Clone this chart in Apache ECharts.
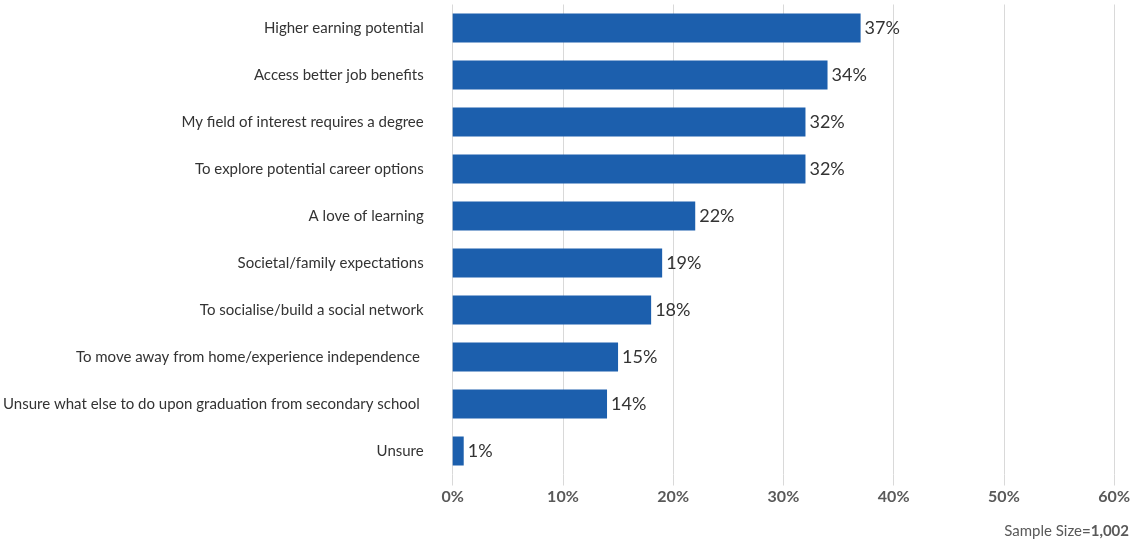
<!DOCTYPE html>
<html>
<head>
<meta charset="utf-8">
<script src="https://cdn.jsdelivr.net/npm/echarts@6/dist/echarts.min.js"></script>
<style>
  html, body { margin: 0; padding: 0; background: #fff; }
  #chart { width: 1133px; height: 542px; }
</style>
</head>
<body>
<div id="chart"></div>
<script>
// Reasons for pursuing a degree (share of respondents, %)
const categories = [
  'Higher earning potential',
  'Access better job benefits',
  'My field of interest requires a degree',
  'To explore potential career options',
  'A love of learning',
  'Societal/family expectations',
  'To socialise/build a social network',
  'To move away from home/experience independence ',
  'Unsure what else to do upon graduation from secondary school ',
  'Unsure'
];
const values = [37, 34, 32, 32, 22, 19, 18, 15, 14, 1];
const tickMax = 60;
const tickStep = 10;
const sampleSize = '1,002';

const FONT = 'Lato, "Open Sans", sans-serif';
const chart = echarts.init(document.getElementById('chart'));

chart.setOption({
  animation: false,
  grid: { left: 451.5, right: 17, top: 4.5, bottom: 67.5, containLabel: false },
  xAxis: {
    type: 'value',
    min: 0,
    max: tickMax,
    interval: tickStep,
    axisLine: { show: false },
    axisTick: { show: true, length: 11, lineStyle: { color: '#d9d9d9' } },
    splitLine: { show: true, lineStyle: { color: '#d9d9d9', width: 1 } },
    axisLabel: {
      formatter: '{value}%',
      color: '#595959',
      fontFamily: FONT,
      fontSize: 16,
      fontWeight: 'bold',
      margin: 14
    }
  },
  yAxis: {
    type: 'category',
    data: categories,
    inverse: true,
    axisLine: { show: false },
    axisTick: { show: false },
    axisLabel: {
      color: '#333333',
      fontFamily: FONT,
      fontSize: 15,
      margin: 29
    }
  },
  series: [{
    type: 'bar',
    data: values,
    barWidth: 29,
    itemStyle: { color: '#1c5fad' },
    label: {
      show: true,
      position: 'right',
      distance: 4,
      formatter: '{c}%',
      color: '#333333',
      fontFamily: FONT,
      fontSize: 18
    }
  }],
  graphic: [{
    type: 'text',
    right: 4,
    top: 524,
    style: {
      text: '{n|Sample Size}{b|=' + sampleSize + '}',
      rich: {
        n: { fill: '#595959', fontFamily: FONT, fontSize: 15 },
        b: { fill: '#595959', fontFamily: FONT, fontSize: 15, fontWeight: 'bold' }
      }
    }
  }]
});
</script>
</body>
</html>
